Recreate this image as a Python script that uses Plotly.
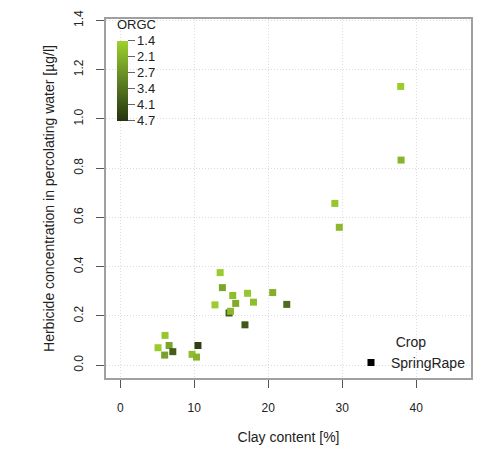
import plotly.graph_objects as go

# Data
clay = [13.5, 13.8, 15.2, 17.2, 20.6, 12.8, 15.6, 18.0, 22.5, 14.7, 14.9, 16.85,
        6.05, 5.1, 6.6, 7.1, 6.0, 10.5, 9.7, 10.3,
        37.9, 37.95, 29.0, 29.6]
herbicide = [0.376, 0.315, 0.283, 0.292, 0.295, 0.245, 0.251, 0.256, 0.247, 0.212, 0.219, 0.164,
             0.121, 0.071, 0.080, 0.055, 0.041, 0.080, 0.044, 0.033,
             1.132, 0.833, 0.657, 0.560]
orgc = [1.5, 2.3, 1.8, 1.6, 2.1, 1.5, 2.2, 1.8, 3.5, 3.8, 1.9, 3.9,
        1.6, 1.5, 2.3, 3.8, 2.4, 4.4, 1.8, 2.0,
        1.5, 2.0, 1.6, 1.9]
crop_name = "SpringRape"
orgc_ticks = [1.4, 2.06, 2.72, 3.38, 4.04, 4.7]
orgc_ticktext = ["1.4", "2.1", "2.7", "3.4", "4.1", "4.7"]
x_ticks = [0, 10, 20, 30, 40]
y_ticks = [0.0, 0.2, 0.4, 0.6, 0.8, 1.0, 1.2, 1.4]

W, H = 483, 454
L, R, T, B = 106, 10, 13, 76
pw = W - L - R
ph = H - T - B

fig = go.Figure()

fig.add_trace(go.Scatter(
    x=clay, y=herbicide, mode="markers", showlegend=False,
    marker=dict(
        symbol="square", size=7,
        color=[-v for v in orgc], cmin=-4.7, cmax=-1.4,
        colorscale=[[0, "#24330f"], [0.5, "#5e8222"], [1, "#9fd12f"]],
        line=dict(width=0),
        colorbar=dict(
            lenmode="pixels", len=80, thickness=11,
            x=(117 - L) / pw, xanchor="left", xpad=0,
            y=(ph - (35 - T)) / ph, yanchor="top", ypad=0,
            outlinewidth=0,
            ticks="outside", ticklen=7, tickcolor="#666",
            tickvals=[-v for v in orgc_ticks], ticktext=orgc_ticktext,
            tickfont=dict(size=13, color="#222"),
        ),
    ),
))

fig.add_trace(go.Scatter(
    x=[None], y=[None], mode="markers", name=crop_name,
    marker=dict(symbol="square", size=7, color="black"),
))

fig.add_annotation(text="ORGC", xref="paper", yref="paper",
                   x=(115 - L) / pw, xanchor="left",
                   y=(ph - (19 - T)) / ph, yanchor="middle",
                   showarrow=False, font=dict(size=13, color="#222"))

axis_common = dict(
    showgrid=True, gridcolor="#dcdcdc", griddash="1px,2px", gridwidth=1,
    showline=True, linecolor="#a0a0a0", linewidth=2, mirror=True,
    ticks="outside", ticklen=8, tickcolor="#555", tickwidth=1,
    zeroline=False,
)

fig.update_layout(
    width=W, height=H,
    margin=dict(l=L, r=R, t=T, b=B),
    paper_bgcolor="white", plot_bgcolor="white",
    font=dict(family="Liberation Sans, Arial, sans-serif", size=12, color="#222"),
    xaxis=dict(range=[-1.93, 47.4], tickvals=x_ticks,
               title=dict(text="Clay content [%]", standoff=18),
               ticklabelstandoff=10, **axis_common),
    yaxis=dict(range=[-0.052, 1.406], tickvals=y_ticks, tickformat=".1f", tickangle=-90,
               title=dict(text="Herbicide concentration in percolating water [µg/l]", standoff=14),
               ticklabelstandoff=8, **axis_common),
    legend=dict(
        title=dict(text="Crop", side="top center", font=dict(size=14, color="#222")),
        x=1.0, xanchor="right", y=(ph - (328 - T)) / ph, yanchor="top",
        bgcolor="rgba(0,0,0,0)", itemwidth=30,
        font=dict(size=14, color="#222"),
    ),
)

fig.write_html("out.html")
